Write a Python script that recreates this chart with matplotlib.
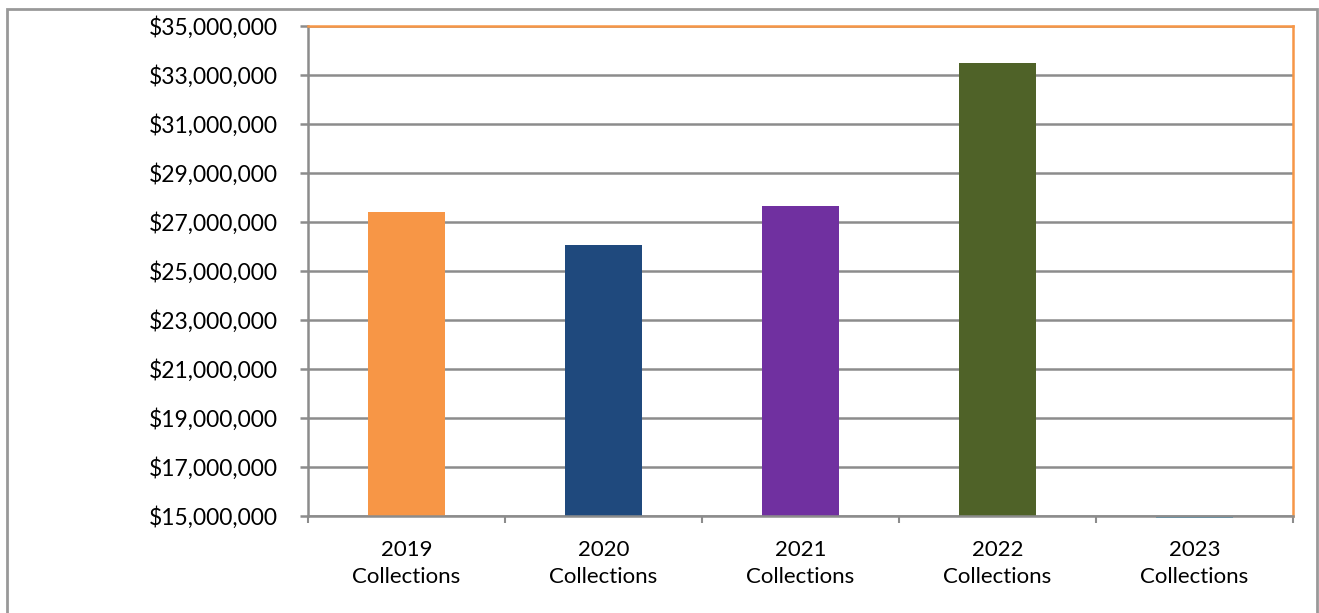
import matplotlib.pyplot as plt
from matplotlib.patches import Rectangle
from matplotlib.ticker import FuncFormatter

categories = ["2019\nCollections", "2020\nCollections", "2021\nCollections",
              "2022\nCollections", "2023\nCollections"]
values = [27410000, 26060000, 27650000, 33490000, 14900000]
colors = ["#F79646", "#1F497D", "#7030A0", "#4F6228", "#1BA1E2"]
y_min, y_max, y_step = 15000000, 35000000, 2000000

plt.rcParams['font.family'] = ['Lato', 'DejaVu Sans']

fig = plt.figure(figsize=(13.19, 6.13), dpi=100)
ax = fig.add_axes([308 / 1319, 1 - 516 / 613, (1293 - 308) / 1319, (516 - 26) / 613])

# outer chart border
fig.patches.append(Rectangle((7 / 1319, -0.01), (1317 - 7) / 1319, 1 - 9 / 613 + 0.01,
                             transform=fig.transFigure, fill=False,
                             edgecolor="#999999", linewidth=2))

x = range(len(categories))
for i, (v, c) in enumerate(zip(values, colors)):
    ax.bar(i, v - y_min, bottom=y_min, width=0.39, color=c, zorder=3, clip_on=False)

ax.set_xlim(-0.5, len(categories) - 0.5)
ax.set_ylim(y_min, y_max)
ax.set_yticks(range(y_min, y_max + 1, y_step))
ax.yaxis.set_major_formatter(FuncFormatter(lambda v, p: f"${v:,.0f}"))
ax.grid(axis='y', color="#8C8C8C", linewidth=1.8, zorder=0)

ax.set_xticks(list(x))
ax.set_xticklabels(categories, fontsize=16, linespacing=1.45)
ax.set_xticks([i - 0.5 for i in range(len(categories) + 1)], minor=True)
ax.tick_params(axis='x', which='major', length=0, pad=17)
ax.tick_params(axis='x', which='minor', length=5, width=1.5, color="#8C8C8C")
ax.tick_params(axis='y', length=6, width=1.8, color="#8C8C8C", labelsize=16.5, pad=16)

ax.spines['top'].set_color("#F79646")
ax.spines['right'].set_color("#F79646")
ax.spines['left'].set_color("#8C8C8C")
ax.spines['bottom'].set_color("#8C8C8C")
for s in ax.spines.values():
    s.set_linewidth(1.8)
ax.spines['bottom'].set_zorder(4)

fig.savefig("out.png", dpi=100)
